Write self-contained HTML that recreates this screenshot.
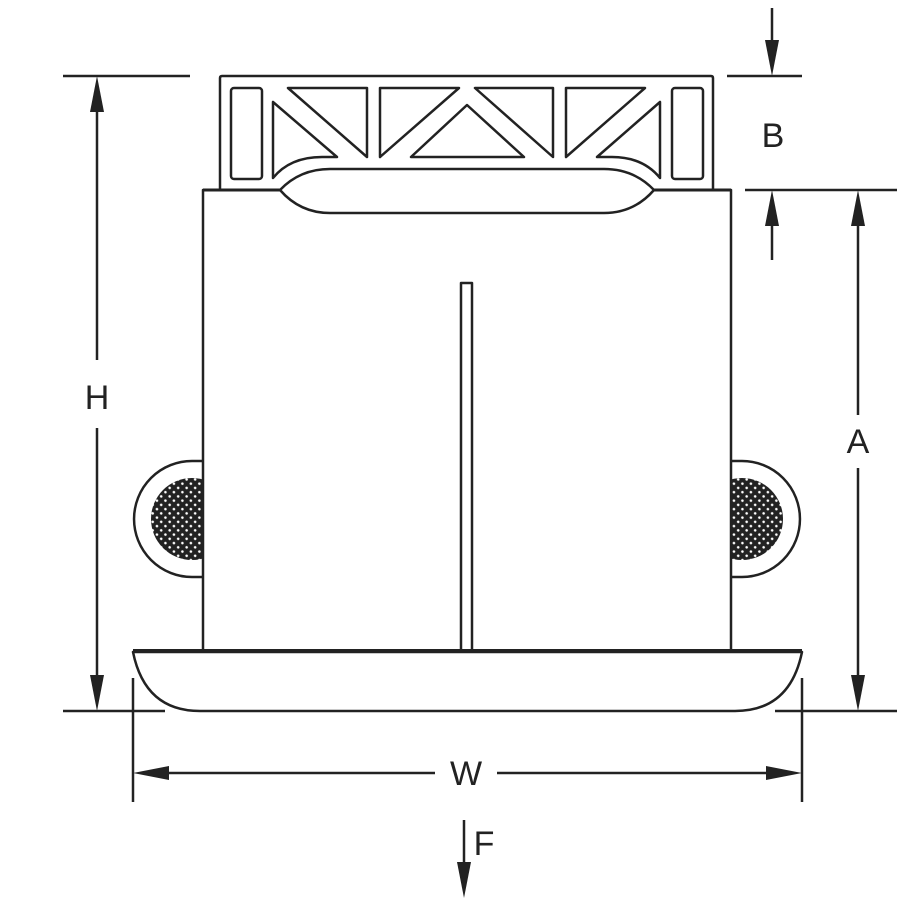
<!DOCTYPE html>
<html><head><style>html,body{margin:0;padding:0;background:#fff}svg{display:block}</style></head><body>
<svg width="900" height="900" viewBox="0 0 900 900" xmlns="http://www.w3.org/2000/svg">
<defs>
<pattern id="dots" width="6" height="6" patternUnits="userSpaceOnUse" patternTransform="rotate(45)">
<rect width="6" height="6" fill="#222"/><circle cx="3" cy="3" r="1.3" fill="#fff"/>
</pattern>
<clipPath id="cl"><rect x="0" y="0" width="203" height="900"/></clipPath>
<clipPath id="cr"><rect x="731" y="0" width="200" height="900"/></clipPath>
</defs>
<g fill="none" stroke="#222" stroke-width="2.5" stroke-linejoin="round">
<!-- knobs -->
<path d="M203,461 L192,461 A58,58 0 0 0 192,577 L203,577"/>
<circle cx="192" cy="519" r="41" fill="url(#dots)" stroke="none" clip-path="url(#cl)"/>
<path d="M731,461 L742,461 A58,58 0 0 1 742,577 L731,577"/>
<circle cx="742" cy="519" r="41" fill="url(#dots)" stroke="none" clip-path="url(#cr)"/>
<!-- body -->
<rect x="203" y="190" width="528" height="461" fill="#fff"/>
<rect x="461" y="283" width="11" height="368" fill="#fff"/>
<!-- top plate -->
<path d="M220,189 L220,78 Q220,76 222,76 L711,76 Q713,76 713,78 L713,189"/>
<line x1="203" y1="190" x2="731" y2="190" stroke-width="3"/>
<rect x="231" y="88" width="31" height="91" rx="3"/>
<rect x="672" y="88" width="31" height="91" rx="3"/>
<path d="M280,190 Q300,169 330,169 L604,169 Q634,169 654,190 Q634,213 604,213 L330,213 Q300,213 280,190 Z" fill="#fff"/>
<path d="M273,102 L273,178 Q290,157 322,157 L337,157 Z"/>
<path d="M288,88 L367,88 L367,157 Z"/>
<path d="M380,88 L459,88 L380,157 Z"/>
<path d="M467,105 L411,157 L524,157 Z"/>
<path d="M475,88 L553,88 L553,157 Z"/>
<path d="M566,88 L645,88 L566,157 Z"/>
<path d="M660,102 L660,178 Q643,157 612,157 L597,157 Z"/>
<!-- bottom cap -->
<path d="M133,652 L802,652 Q790,711 735,711 L200,711 Q145,711 133,652 Z" fill="#fff"/>
<line x1="133" y1="651" x2="802" y2="651" stroke-width="4"/>
</g>
<g stroke="#222" stroke-width="2.5" fill="none">
<!-- H -->
<line x1="63" y1="76" x2="190" y2="76"/>
<line x1="63" y1="711" x2="165" y2="711"/>
<line x1="97" y1="100" x2="97" y2="360"/>
<line x1="97" y1="428" x2="97" y2="690"/>
<!-- A -->
<line x1="745" y1="190" x2="897" y2="190"/>
<line x1="775" y1="711" x2="897" y2="711"/>
<line x1="858" y1="212" x2="858" y2="415"/>
<line x1="858" y1="468" x2="858" y2="690"/>
<!-- B -->
<line x1="727" y1="76" x2="802" y2="76"/>
<line x1="772" y1="8" x2="772" y2="55"/>
<line x1="772" y1="210" x2="772" y2="260"/>
<!-- W -->
<line x1="133" y1="678" x2="133" y2="802"/>
<line x1="802" y1="678" x2="802" y2="802"/>
<line x1="155" y1="773" x2="435" y2="773"/>
<line x1="497" y1="773" x2="780" y2="773"/>
<!-- F -->
<line x1="464" y1="820" x2="464" y2="870"/>
</g>
<g fill="#222">
<path d="M97,76 L90,112 L104,112 Z"/><path d="M97,711 L90,675 L104,675 Z"/>
<path d="M858,190 L851,226 L865,226 Z"/><path d="M858,711 L851,675 L865,675 Z"/>
<path d="M772,76 L765,40 L779,40 Z"/><path d="M772,190 L765,226 L779,226 Z"/>
<path d="M133,773 L169,766 L169,780 Z"/><path d="M802,773 L766,766 L766,780 Z"/>
<path d="M464,898 L457,862 L471,862 Z"/>
</g>
<g font-family="Liberation Sans, sans-serif" font-size="34" fill="#222" text-anchor="middle">
<text x="97" y="409">H</text>
<text x="858" y="453">A</text>
<text x="773" y="147">B</text>
<text x="466" y="785">W</text>
<text x="484" y="855">F</text>
</g>
</svg>
</body></html>
